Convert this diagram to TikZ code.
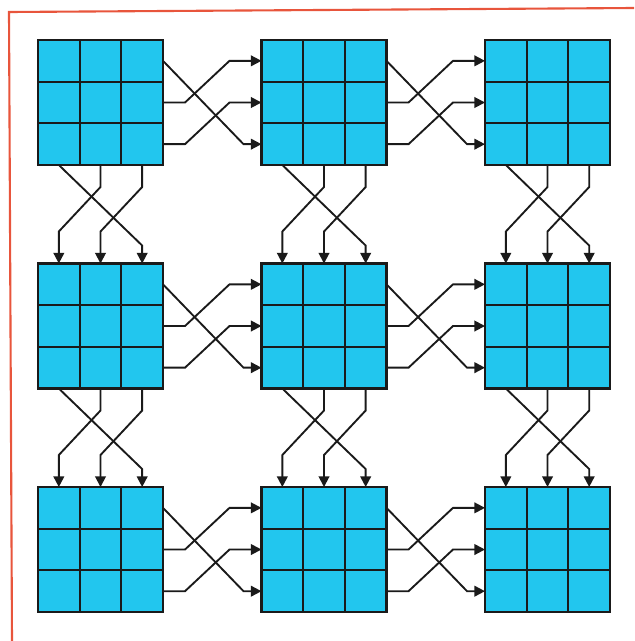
\documentclass[tikz,border=0pt]{standalone}
\usetikzlibrary{arrows.meta, positioning, calc}
\definecolor{cianbloque}{HTML}{22C6EE}
\definecolor{rojomarco}{HTML}{E8553C}
\definecolor{negrolinea}{HTML}{1A1A1A}
\tikzset{
  bloque/.style={
    draw=negrolinea, line width=1.9pt, fill=cianbloque,
    minimum size=3.75cm, inner sep=0pt, outer sep=0pt,
    path picture={
      \foreach \k in {1,2} {
        \draw[negrolinea, line width=1.6pt]
          ($(path picture bounding box.north west)!\k/3!(path picture bounding box.north east)$) --
          ($(path picture bounding box.south west)!\k/3!(path picture bounding box.south east)$);
        \draw[negrolinea, line width=1.6pt]
          ($(path picture bounding box.north west)!\k/3!(path picture bounding box.south west)$) --
          ($(path picture bounding box.north east)!\k/3!(path picture bounding box.south east)$);
      }
    }
  },
  flecha/.style={-{Triangle[length=3.2mm, width=3.2mm]}, line width=1.6pt, negrolinea},
  marco/.style={rojomarco, line width=1.8pt},
}

\begin{document}
\begin{tikzpicture}[x=0.03cm, y=-0.03cm, node distance=2.955cm]
  \useasboundingbox (0,0) rectangle (634,641);
  % marco del recorte
  \draw[marco] (12,641) -- (9,12) -- (634,8);

  % bloques 3x3
  \node[bloque] (b11) at (100.5,102.5) {};
  \node[bloque, right=of b11] (b12) {};
  \node[bloque, right=of b12] (b13) {};
  \node[bloque, below=of b11] (b21) {};
  \node[bloque, right=of b21] (b22) {};
  \node[bloque, right=of b22] (b23) {};
  \node[bloque, below=of b21] (b31) {};
  \node[bloque, right=of b31] (b32) {};
  \node[bloque, right=of b32] (b33) {};

  % puertos de cada bloque
  \foreach \f in {1,2,3} {
    \foreach \c in {1,2,3} {
      \foreach \k/\t in {1/1, 2/3, 3/5} {
        \coordinate (b\f\c-e\k) at ($(b\f\c.north east)!\t/6!(b\f\c.south east)$);
        \coordinate (b\f\c-w\k) at ($(b\f\c.north west)!\t/6!(b\f\c.south west)$);
        \coordinate (b\f\c-n\k) at ($(b\f\c.north west)!\t/6!(b\f\c.north east)$);
        \coordinate (b\f\c-s\k) at ($(b\f\c.south west)!\t/6!(b\f\c.south east)$);
      }
    }
  }

  % conexiones horizontales
  \foreach \f in {1,2,3} {
    \foreach \c/\d in {1/2, 2/3} {
      \draw[flecha] (b\f\c-e1) -- ($(b\f\d-w3)+(-18,0)$) -- (b\f\d-w3);
      \draw[flecha] (b\f\c-e2) -- ++(22,0) -- ($(b\f\d-w1)+(-32,0)$) -- (b\f\d-w1);
      \draw[flecha] (b\f\c-e3) -- ++(22,0) -- ($(b\f\d-w2)+(-32,0)$) -- (b\f\d-w2);
    }
  }

  % conexiones verticales
  \foreach \c in {1,2,3} {
    \foreach \f/\g in {1/2, 2/3} {
      \draw[flecha] (b\f\c-s1) -- ($(b\g\c-n3)+(0,-18)$) -- (b\g\c-n3);
      \draw[flecha] (b\f\c-s2) -- ++(0,22) -- ($(b\g\c-n1)+(0,-32)$) -- (b\g\c-n1);
      \draw[flecha] (b\f\c-s3) -- ++(0,22) -- ($(b\g\c-n2)+(0,-32)$) -- (b\g\c-n2);
    }
  }
\end{tikzpicture}
\end{document}
